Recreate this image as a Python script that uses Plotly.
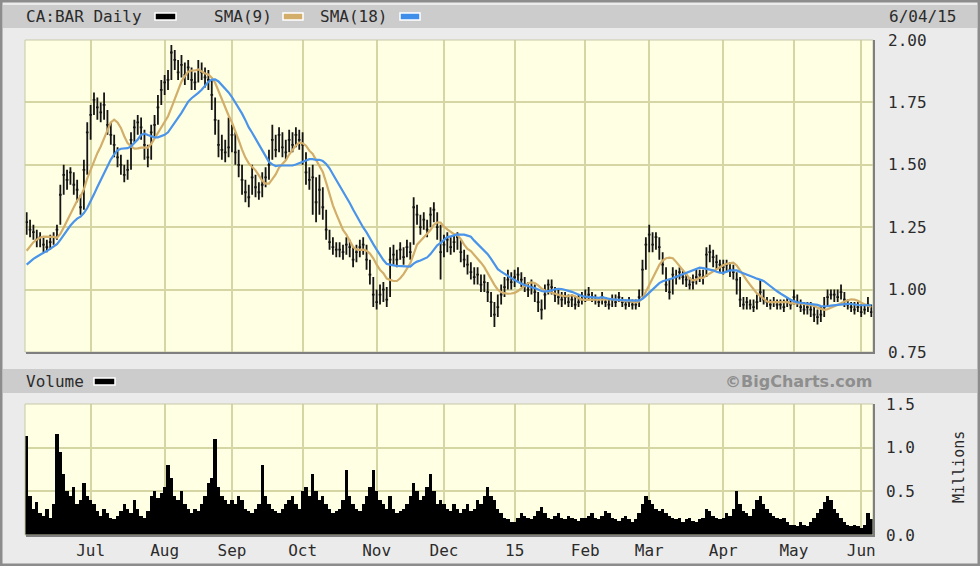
import pandas as pd
import plotly.graph_objects as go

# ---------------- data ----------------
holidays = ["2014-07-01", "2014-08-04", "2014-09-01", "2014-10-13", "2014-12-25",
            "2014-12-26", "2015-01-01", "2015-02-16", "2015-04-03", "2015-05-18"]

# closes, by month (Jun 2014 .. Jun 2015)
close_jun14 = [1.27,1.24,1.23,1.20,1.21,1.18,1.17,1.19,1.21,1.24,1.38,1.46,1.44,1.47,1.42,1.40,1.33,1.48,1.63]
close_jul14 = [1.70,1.76,1.73,1.71,1.74,1.66,1.62,1.58,1.53,1.50,1.46,1.48,1.60,1.65,1.67,1.65,1.58,1.53,1.63,1.66,1.73,1.80]
close_aug14 = [1.83,1.84,1.95,1.92,1.87,1.90,1.86,1.89,1.84,1.83,1.88,1.87,1.85,1.84,1.78,1.68,1.58,1.56,1.55,1.57]
close_sep14 = [1.62,1.55,1.50,1.44,1.39,1.37,1.45,1.41,1.39,1.42,1.45,1.50,1.60,1.56,1.62,1.57,1.55,1.60,1.58,1.62,1.60]
close_oct14 = [1.58,1.47,1.44,1.45,1.35,1.40,1.33,1.24,1.19,1.17,1.16,1.16,1.15,1.18,1.17,1.12,1.15,1.17,1.18,1.12,1.06,0.98]
close_nov14 = [0.95,0.98,1.00,0.96,1.12,1.14,1.12,1.16,1.13,1.17,1.15,1.33,1.30,1.25,1.28,1.24,1.30,1.32,1.25,1.15]
close_dec14 = [1.18,1.20,1.17,1.19,1.21,1.15,1.12,1.10,1.07,1.05,1.06,1.02,1.03,0.99,0.95,0.90,0.93,0.98,1.01,1.04,1.03]
close_jan15 = [1.05,1.06,1.04,1.02,1.00,1.01,0.99,0.95,0.92,0.98,1.02,1.01,0.98,0.97,0.96,0.97,0.95,0.96,0.94,0.95,0.96]
close_feb15 = [0.97,0.98,0.97,0.96,0.95,0.97,0.95,0.94,0.96,0.95,0.97,0.95,0.94,0.95,0.94,0.94,0.97,1.08,1.18]
close_mar15 = [1.22,1.18,1.21,1.17,1.10,1.02,0.99,1.06,1.05,1.07,1.05,1.04,1.02,1.03,1.05,1.06,1.05,1.14,1.15,1.13,1.11,1.10]
close_apr15 = [1.09,1.10,1.08,1.07,1.04,0.96,0.94,0.95,0.94,0.93,0.95,0.99,0.96,0.95,0.94,0.95,0.94,0.94,0.93,0.95,0.94]
close_may15 = [0.97,0.95,0.93,0.92,0.93,0.92,0.90,0.89,0.90,0.93,0.97,0.98,0.98,0.97,0.99,0.96,0.94,0.93,0.92,0.93]
close_jun15 = [0.91,0.92,0.94,0.91]

high_jun14 = [1.31,1.28,1.26,1.24,1.23,1.21,1.20,1.22,1.23,1.26,1.42,1.50,1.48,1.49,1.47,1.44,1.38,1.52,1.67]
high_jul14 = [1.74,1.79,1.77,1.75,1.79,1.72,1.67,1.62,1.57,1.54,1.50,1.52,1.63,1.68,1.70,1.69,1.64,1.58,1.66,1.70,1.78,1.84]
high_aug14 = [1.86,1.88,1.98,1.96,1.92,1.94,1.91,1.92,1.89,1.87,1.92,1.91,1.89,1.88,1.84,1.77,1.68,1.62,1.60,1.69]
high_sep14 = [1.66,1.63,1.56,1.50,1.44,1.42,1.50,1.46,1.43,1.47,1.49,1.56,1.66,1.62,1.65,1.63,1.60,1.64,1.63,1.65,1.64]
high_oct14 = [1.63,1.55,1.49,1.50,1.45,1.46,1.41,1.32,1.24,1.21,1.19,1.19,1.18,1.21,1.20,1.17,1.18,1.20,1.21,1.18,1.12,1.05]
high_nov14 = [1.00,1.02,1.03,1.01,1.17,1.18,1.16,1.19,1.17,1.20,1.19,1.37,1.34,1.30,1.31,1.28,1.33,1.35,1.31,1.26]
high_dec14 = [1.22,1.23,1.21,1.22,1.23,1.20,1.16,1.14,1.11,1.09,1.09,1.06,1.06,1.03,0.99,0.95,0.98,1.02,1.05,1.08,1.07]
high_jan15 = [1.08,1.09,1.07,1.05,1.03,1.04,1.02,0.99,0.96,1.02,1.04,1.04,1.01,1.00,0.99,0.99,0.98,0.98,0.97,0.98,0.99]
high_feb15 = [1.00,1.01,0.99,0.98,0.97,0.99,0.97,0.96,0.98,0.98,0.99,0.97,0.96,0.97,0.96,0.96,1.00,1.12,1.21]
high_mar15 = [1.26,1.23,1.23,1.21,1.15,1.09,1.04,1.09,1.08,1.09,1.08,1.07,1.05,1.06,1.08,1.08,1.08,1.17,1.18,1.16,1.14,1.12]
high_apr15 = [1.12,1.12,1.11,1.10,1.07,1.05,0.97,0.97,0.96,0.96,0.98,1.04,1.00,0.97,0.96,0.97,0.96,0.96,0.96,0.97,0.96]
high_may15 = [1.00,0.98,0.96,0.95,0.95,0.95,0.93,0.92,0.93,0.97,1.00,1.00,1.00,1.00,1.02,0.99,0.96,0.95,0.95,0.95]
high_jun15 = [0.94,0.94,0.97,0.94]

low_jun14 = [1.22,1.21,1.20,1.17,1.17,1.15,1.15,1.16,1.18,1.20,1.26,1.38,1.40,1.42,1.38,1.35,1.30,1.32,1.46]
low_jul14 = [1.60,1.70,1.68,1.67,1.68,1.62,1.58,1.53,1.49,1.46,1.43,1.44,1.48,1.59,1.62,1.60,1.52,1.49,1.52,1.61,1.66,1.74]
low_aug14 = [1.78,1.80,1.84,1.88,1.84,1.85,1.82,1.84,1.80,1.80,1.83,1.84,1.81,1.80,1.72,1.62,1.53,1.52,1.51,1.53]
low_sep14 = [1.55,1.50,1.45,1.38,1.35,1.33,1.38,1.37,1.36,1.37,1.41,1.44,1.52,1.53,1.55,1.53,1.52,1.55,1.55,1.57,1.56]
low_oct14 = [1.50,1.42,1.40,1.30,1.27,1.30,1.28,1.20,1.16,1.14,1.13,1.13,1.12,1.14,1.13,1.09,1.11,1.13,1.14,1.08,1.02,0.93]
low_nov14 = [0.92,0.94,0.95,0.93,0.97,1.10,1.09,1.12,1.10,1.13,1.12,1.18,1.26,1.22,1.24,1.21,1.25,1.27,1.20,1.04]
low_dec14 = [1.13,1.15,1.14,1.15,1.16,1.11,1.09,1.06,1.04,1.02,1.02,0.99,0.99,0.95,0.89,0.85,0.89,0.94,0.97,1.00,1.00]
low_jan15 = [1.01,1.03,1.01,0.99,0.97,0.98,0.95,0.91,0.88,0.92,0.98,0.98,0.95,0.94,0.93,0.94,0.93,0.93,0.92,0.93,0.94]
low_feb15 = [0.95,0.96,0.95,0.94,0.93,0.94,0.93,0.92,0.93,0.93,0.95,0.93,0.92,0.93,0.92,0.92,0.93,0.97,1.08]
low_mar15 = [1.15,1.15,1.16,1.12,1.06,0.99,0.96,0.98,1.02,1.04,1.02,1.01,1.00,1.00,1.02,1.03,1.02,1.05,1.11,1.09,1.08,1.07]
low_apr15 = [1.06,1.07,1.05,1.04,0.98,0.93,0.92,0.92,0.92,0.91,0.92,0.95,0.94,0.93,0.92,0.93,0.92,0.92,0.91,0.93,0.92]
low_may15 = [0.94,0.93,0.91,0.90,0.90,0.89,0.87,0.86,0.87,0.89,0.93,0.96,0.95,0.95,0.96,0.93,0.92,0.91,0.90,0.91]
low_jun15 = [0.89,0.90,0.91,0.89]

# volume in millions
vol_jun14 = [1.13,0.45,0.30,0.38,0.25,0.22,0.30,0.20,0.35,1.16,0.95,0.70,0.50,0.45,0.55,0.35,0.40,0.60,0.45]
vol_jul14 = [0.40,0.35,0.28,0.22,0.30,0.25,0.20,0.18,0.22,0.28,0.35,0.30,0.25,0.40,0.30,0.22,0.20,0.28,0.45,0.50,0.42,0.48]
vol_aug14 = [0.55,0.80,0.65,0.45,0.40,0.50,0.35,0.30,0.25,0.30,0.28,0.35,0.45,0.60,0.65,1.10,0.55,0.45,0.40,0.35]
vol_sep14 = [0.40,0.35,0.45,0.40,0.30,0.28,0.25,0.30,0.35,0.80,0.45,0.35,0.30,0.28,0.25,0.30,0.35,0.40,0.45,0.35,0.30]
vol_oct14 = [0.50,0.55,0.45,0.70,0.50,0.40,0.45,0.35,0.30,0.25,0.28,0.30,0.40,0.75,0.45,0.35,0.30,0.28,0.35,0.45,0.55,0.75]
vol_nov14 = [0.50,0.40,0.35,0.30,0.45,0.30,0.25,0.28,0.30,0.35,0.45,0.60,0.50,0.40,0.45,0.55,0.70,0.50,0.35,0.40]
vol_dec14 = [0.35,0.30,0.28,0.35,0.30,0.25,0.30,0.35,0.28,0.30,0.40,0.35,0.45,0.55,0.45,0.40,0.30,0.25,0.20,0.18,0.15]
vol_jan15 = [0.15,0.20,0.25,0.22,0.20,0.18,0.22,0.28,0.32,0.25,0.20,0.18,0.22,0.25,0.20,0.18,0.22,0.20,0.18,0.16,0.20]
vol_feb15 = [0.20,0.22,0.25,0.20,0.18,0.22,0.28,0.25,0.20,0.18,0.16,0.20,0.22,0.18,0.15,0.18,0.25,0.35,0.45]
vol_mar15 = [0.40,0.35,0.30,0.28,0.30,0.25,0.22,0.20,0.18,0.20,0.15,0.18,0.20,0.16,0.15,0.18,0.20,0.30,0.28,0.22,0.20,0.18]
vol_apr15 = [0.20,0.25,0.22,0.30,0.50,0.35,0.28,0.25,0.22,0.30,0.40,0.45,0.35,0.30,0.25,0.22,0.20,0.18,0.20,0.15,0.12]
vol_may15 = [0.12,0.10,0.15,0.12,0.10,0.15,0.20,0.25,0.30,0.38,0.45,0.40,0.30,0.25,0.20,0.15,0.12,0.10,0.12,0.10]
vol_jun15 = [0.08,0.12,0.25,0.18]

# closes before the visible window (estimated so the averages start where the picture shows)
pre_closes = [1.02,1.03,1.05,1.04,1.06,1.05,1.04,1.06,1.05,1.07,1.09,1.11,1.13,1.15,1.17,1.19,1.22]

month_names = {7: "Jul", 8: "Aug", 9: "Sep", 10: "Oct", 11: "Nov", 12: "Dec",
               1: "15", 2: "Feb", 3: "Mar", 4: "Apr", 5: "May", 6: "Jun"}
price_ticks = [0.75, 1.00, 1.25, 1.50, 1.75, 2.00]
vol_ticks = [0.0, 0.5, 1.0, 1.5]

# ---------------- assemble ----------------
closes = (close_jun14 + close_jul14 + close_aug14 + close_sep14 + close_oct14 + close_nov14 +
          close_dec14 + close_jan15 + close_feb15 + close_mar15 + close_apr15 + close_may15 + close_jun15)
highs = (high_jun14 + high_jul14 + high_aug14 + high_sep14 + high_oct14 + high_nov14 +
         high_dec14 + high_jan15 + high_feb15 + high_mar15 + high_apr15 + high_may15 + high_jun15)
lows = (low_jun14 + low_jul14 + low_aug14 + low_sep14 + low_oct14 + low_nov14 +
        low_dec14 + low_jan15 + low_feb15 + low_mar15 + low_apr15 + low_may15 + low_jun15)
vols = (vol_jun14 + vol_jul14 + vol_aug14 + vol_sep14 + vol_oct14 + vol_nov14 +
        vol_dec14 + vol_jan15 + vol_feb15 + vol_mar15 + vol_apr15 + vol_may15 + vol_jun15)

dates = pd.bdate_range("2014-06-04", "2015-06-04")
dates = dates[~dates.isin(pd.to_datetime(holidays))]
n = len(dates)
assert len(closes) == n and len(highs) == n and len(lows) == n and len(vols) == n, (n, len(closes), len(highs), len(lows), len(vols))
x = list(range(n))

s = pd.Series(pre_closes + closes)
sma9 = s.rolling(9).mean().iloc[len(pre_closes):].tolist()
sma18 = s.rolling(18).mean().iloc[len(pre_closes):].tolist()

tickvals, ticktext = [], []
prev = dates[0].month
for i, d in enumerate(dates):
    if i > 0 and d.month != prev:
        tickvals.append(i)
        ticktext.append(month_names[d.month])
    prev = d.month

# ---------------- figure ----------------
W, H = 980, 566
L, R, T, B = 25, 107, 40, 31
PW, PH = W - L - R, H - T - B


def px(xp):
    return (xp - L) / PW


def py(yp):
    return (H - B - yp) / PH


FONT = "DejaVu Sans Mono"
TXT = "#2b2b2b"
GRID = "#D6D6A4"
PLOTBG = "#FFFFE3"

price_dom = [py(352), 1.0]
vol_dom = [0.0, py(404)]

fig = go.Figure()
fig.add_trace(go.Ohlc(x=x, open=closes, high=highs, low=lows, close=closes,
                      increasing=dict(line=dict(color="#151515", width=1.8)),
                      decreasing=dict(line=dict(color="#151515", width=1.8)),
                      tickwidth=0.4, xaxis="x", yaxis="y", showlegend=False,
                      hoverinfo="skip"))
fig.add_trace(go.Scatter(x=x, y=sma9, mode="lines", line=dict(color="#D2AE6A", width=2.2),
                         xaxis="x", yaxis="y", showlegend=False, hoverinfo="skip"))
fig.add_trace(go.Scatter(x=x, y=sma18, mode="lines", line=dict(color="#4A94EA", width=2.2),
                         xaxis="x", yaxis="y", showlegend=False, hoverinfo="skip"))
fig.add_trace(go.Bar(x=x, y=vols, marker=dict(color="#000000", line=dict(width=0)),
                     xaxis="x2", yaxis="y2", showlegend=False, hoverinfo="skip"))

xr = [-0.5, n - 0.5]
axis_common = dict(showgrid=True, gridcolor=GRID, gridwidth=2, zeroline=False, automargin=False,
                   tickfont=dict(family=FONT, size=16, color=TXT), ticks="")
fig.update_layout(
    width=W, height=H, autosize=False,
    margin=dict(l=L, r=R, t=T, b=B, pad=0, autoexpand=False),
    paper_bgcolor="#EBEBEB", plot_bgcolor=PLOTBG,
    bargap=0,
    xaxis=dict(domain=[0, 1], anchor="y", range=xr, tickvals=tickvals, showticklabels=False,
               rangeslider=dict(visible=False), matches="x2", **axis_common),
    yaxis=dict(domain=price_dom, anchor="x", range=[0.75, 2.0], side="right",
               tickvals=price_ticks, ticktext=["%.2f" % v for v in price_ticks],
               ticklabelstandoff=14, **axis_common),
    xaxis2=dict(domain=[0, 1], anchor="y2", range=xr, tickvals=tickvals, ticktext=ticktext,
                ticklabelstandoff=4, **axis_common),
    yaxis2=dict(domain=vol_dom, anchor="x2", range=[0, 1.5], side="right",
                tickvals=vol_ticks, ticktext=["%.1f" % v for v in vol_ticks],
                ticklabelstandoff=12, **axis_common),
)

shapes = []
# outer frame
shapes.append(dict(type="rect", xref="paper", yref="paper", x0=px(1), x1=px(979), y0=py(565), y1=py(1),
                   line=dict(color="#8C8C8C", width=3), fillcolor="rgba(0,0,0,0)", layer="below"))
# header bars
shapes.append(dict(type="rect", xref="paper", yref="paper", x0=px(3), x1=px(977), y0=py(28), y1=py(5),
                   line=dict(width=0), fillcolor="#CCCCCC", layer="below"))
shapes.append(dict(type="rect", xref="paper", yref="paper", x0=px(3), x1=px(977), y0=py(393), y1=py(369),
                   line=dict(width=0), fillcolor="#CCCCCC", layer="below"))
# panel borders
for (y0, y1) in [(352, 40), (535, 404)]:
    shapes.append(dict(type="rect", xref="paper", yref="paper", x0=px(25), x1=px(873), y0=py(y1), y1=py(y0),
                       line=dict(color="#C8C8A8", width=1), fillcolor="rgba(0,0,0,0)"))
    shapes.append(dict(type="line", xref="paper", yref="paper", x0=px(874), x1=px(874), y0=py(y0 + 1), y1=py(y1),
                       line=dict(color="#7F7F7F", width=2)))
    shapes.append(dict(type="line", xref="paper", yref="paper", x0=px(26), x1=px(875), y0=py(y0 + 1), y1=py(y0 + 1),
                       line=dict(color="#7F7F7F", width=2)))
# legend swatches
for (x0, x1, yc, col) in [(155, 176, 16.5, "#000000"), (283, 303, 16.5, "#D2AE6A"),
                          (400, 420, 16.5, "#3F8FEA"), (94, 115, 381.5, "#000000")]:
    shapes.append(dict(type="rect", xref="paper", yref="paper", x0=px(x0), x1=px(x1),
                       y0=py(yc + 3.5), y1=py(yc - 3.5), fillcolor=col,
                       line=dict(color="#FFFFFF", width=1.5)))
fig.update_layout(shapes=shapes)

ann = []


def add_text(text, xp, yp, xanchor="left", size=16, color=TXT, family=FONT, angle=0):
    ann.append(dict(text=text, xref="paper", yref="paper", x=px(xp), y=py(yp), xanchor=xanchor,
                    yanchor="middle", showarrow=False, textangle=angle,
                    font=dict(family=family, size=size, color=color)))


add_text("CA:BAR Daily", 24, 16.5)
add_text("SMA(9)", 212, 16.5)
add_text("SMA(18)", 318, 16.5)
add_text("6/04/15", 958, 16.5, xanchor="right")
add_text("Volume", 24, 381.5)
add_text("<b>©BigCharts.com</b>", 874, 381.5, xanchor="right", size=16, color="#8E8E8E", family="DejaVu Sans")
ann.append(dict(text="Millions", xref="paper", yref="paper", x=px(959), y=py(467), xanchor="center",
                yanchor="middle", showarrow=False, textangle=-90,
                font=dict(family=FONT, size=15, color=TXT)))
fig.update_layout(annotations=ann)

fig.write_html("out.html", config={"displayModeBar": False},
               post_script="document.body.style.margin='0px';document.body.style.overflow='hidden';")
